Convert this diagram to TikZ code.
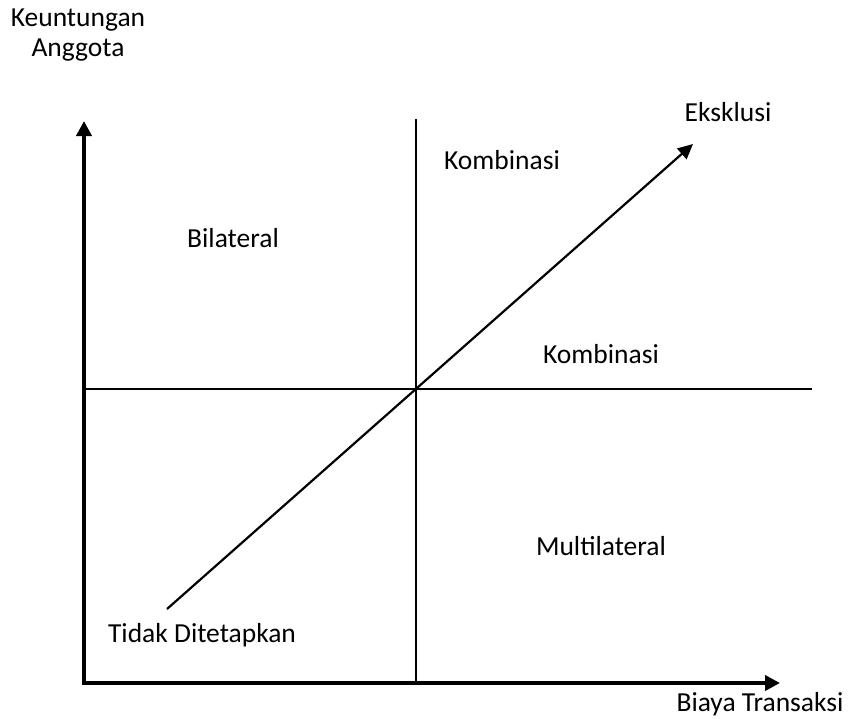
\documentclass[tikz,border=0pt]{standalone}
\usepackage{fontspec}
\setmainfont{Carlito}
\usetikzlibrary{arrows.meta}
\begin{document}
\begin{tikzpicture}[x=1pt,y=-1pt,
  lbl/.style={font=\fontsize{27.5}{30}\selectfont, inner sep=0pt},
  axis/.style={line width=3.8pt, -{Triangle[length=15pt,width=15pt]}},
  thin/.style={line width=2.2pt}]
\useasboundingbox (0,0) rectangle (850,718);
\coordinate (O) at (84,683);
\coordinate (Ytip) at (84,121);
\coordinate (Xtip) at (780,683);
\coordinate (Vtop) at (416,119);
\coordinate (Vbot) at (416,683);
\coordinate (Hl) at (84,389);
\coordinate (Hr) at (812,389);
\coordinate (Ds) at (167,609);
\coordinate (De) at (693,144);
\draw[thin] (Vtop) -- (Vbot);
\draw[thin] (Hl) -- (Hr);
\draw[thin, -{Triangle[length=15pt,width=14pt]}] (Ds) -- (De);
\draw[axis] (O) -- (Ytip);
\draw[axis] ([xshift=-1.9pt]O) -- (Xtip);
\node[lbl] (ylab1) at (78,20) {Keuntungan};
\node[lbl] (ylab2) at (78,50) {Anggota};
\node[lbl] (eks) at (728,112) {Eksklusi};
\node[lbl] (kom1) at (502,160) {Kombinasi};
\node[lbl] (bil) at (233,238) {Bilateral};
\node[lbl] (kom2) at (601,354) {Kombinasi};
\node[lbl] (mul) at (601,546) {Multilateral};
\node[lbl] (tid) at (202,635) {Tidak Ditetapkan};
\node[lbl] (xlab) at (760,704) {Biaya Transaksi};
\end{tikzpicture}
\end{document}
